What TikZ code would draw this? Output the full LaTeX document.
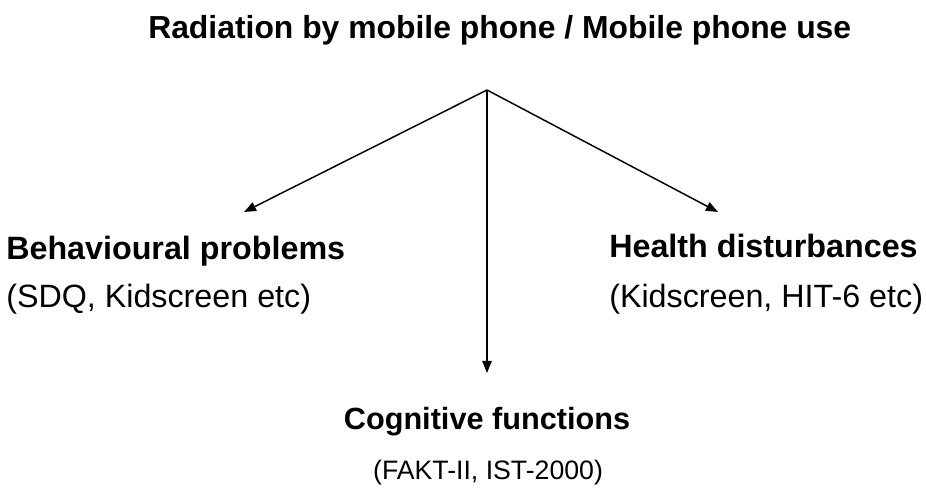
\documentclass[tikz,border=0pt]{standalone}
\usepackage{fontspec}
\setmainfont{Liberation Sans}
\usetikzlibrary{arrows.meta}

\tikzset{
  headtext/.style={inner sep=0.75pt, font=\fontsize{24.2}{29}\selectfont\bfseries},
  subtext/.style={inner sep=0.75pt, font=\fontsize{24.2}{29}\selectfont},
  smalltext/.style={inner sep=0.75pt, font=\fontsize{20}{24}\selectfont},
  link/.style={line width=1.1pt, -{Triangle[length=9pt,width=7pt]}}
}

\begin{document}
\begin{tikzpicture}[x=0.75pt,y=0.75pt,yscale=-1,xscale=1]
\useasboundingbox (0,0) rectangle (926,488);

% Text Node
\draw (147,39) node (title) [anchor=base west][headtext, font=\fontsize{23.9}{29}\selectfont\bfseries] {Radiation by mobile phone / Mobile phone use};
% Text Node
\draw (5,260) node (behav) [anchor=base west][headtext] {Behavioural problems};
% Text Node
\draw (5,308) node (behavsub) [anchor=base west][subtext] {(SDQ, Kidscreen etc)};
% Text Node
\draw (608,258) node (health) [anchor=base west][headtext] {Health disturbances};
% Text Node
\draw (608,308) node (healthsub) [anchor=base west][subtext] {(Kidscreen, HIT-6 etc)};
% Text Node
\draw (487,430) node (cogn) [anchor=base][headtext, font=\fontsize{23}{28}\selectfont\bfseries] {Cognitive functions};
% Text Node
\draw (488,480) node (cognsub) [anchor=base][smalltext] {(FAKT-II, IST-2000)};

%Straight Lines
\coordinate (apex) at (487,90);
\coordinate (behavtip) at (244,212);
\coordinate (healthtip) at (718,212);
\coordinate (cogntip) at (487,373);
\draw [link] (apex) -- (behavtip);
\draw [link] (apex) -- (healthtip);
\draw [link] (apex) -- (cogntip);

\end{tikzpicture}
\end{document}
